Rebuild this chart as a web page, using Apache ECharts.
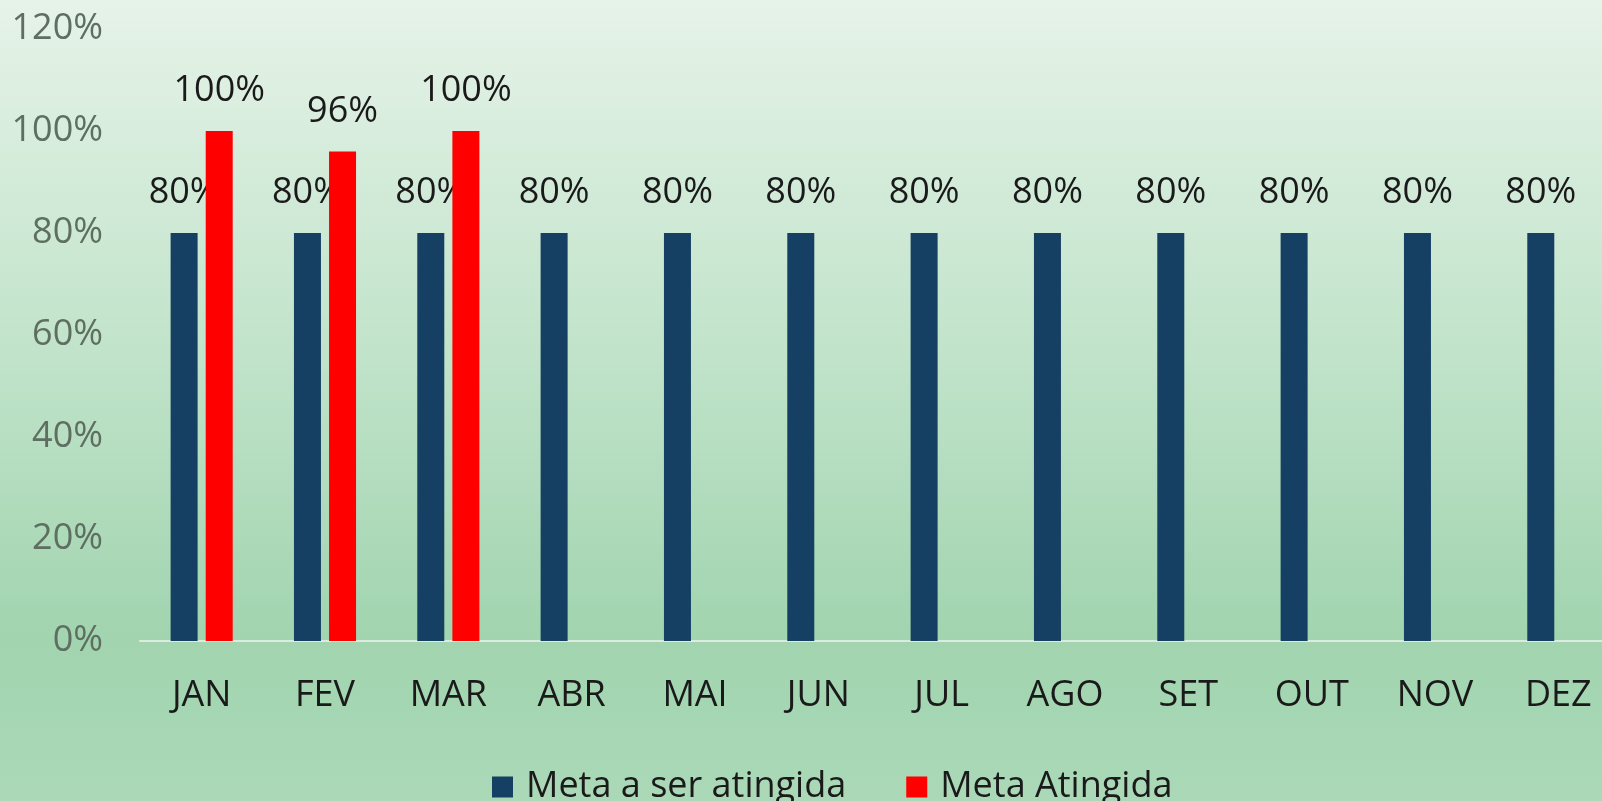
<!DOCTYPE html>
<html>
<head>
<meta charset="utf-8">
<script src="https://cdn.jsdelivr.net/npm/echarts@6/dist/echarts.min.js"></script>
<style>
  html, body { margin: 0; padding: 0; overflow: hidden; }
  /* the original chart is cut off on the right, so the canvas is a bit wider than the window */
  #chart { width: 1622px; height: 801px; }
</style>
</head>
<body>
<div id="chart"></div>
<script>
// Month categories
var months = ['JAN', 'FEV', 'MAR', 'ABR', 'MAI', 'JUN', 'JUL', 'AGO', 'SET', 'OUT', 'NOV', 'DEZ'];
// Target to be reached (%)
var metaASerAtingida = [80, 80, 80, 80, 80, 80, 80, 80, 80, 80, 80, 80];
// Target reached (%), only first quarter so far
var metaAtingida = [100, 96, 100, null, null, null, null, null, null, null, null, null];
var seriesNames = ['Meta a ser atingida', 'Meta Atingida'];

var fontFamily = '"Open Sans", "Noto Sans", sans-serif';

function initChart() {
  var el = document.getElementById('chart');
  var chart = echarts.init(el);

  var labelStyle = {
    show: true,
    position: 'top',
    distance: 22,
    fontFamily: fontFamily,
    fontSize: 36,
    color: '#1a1a1a',
    formatter: '{c}%'
  };

  chart.setOption({
    backgroundColor: new echarts.graphic.LinearGradient(0, 0, 0, 1, [
      {offset: 0, color: '#e6f3e9'},
      {offset: 0.45, color: '#c0e3c9'},
      {offset: 0.8, color: '#a1d4af'},
      {offset: 1, color: '#abd9b8'}
    ]),
    animation: false,
    legend: {
      data: seriesNames,
      left: 487,
      top: 764,
      itemWidth: 21,
      itemHeight: 21,
      itemGap: 60,
      icon: 'rect',
      textStyle: {
        fontFamily: fontFamily,
        fontSize: 36,
        color: '#1a1a1a',
        padding: [0, 0, 0, 8]
      }
    },
    grid: {
      left: 140,
      top: 29,
      right: 2,
      height: 612
    },
    xAxis: {
      type: 'category',
      data: months,
      axisTick: {show: false},
      axisLine: {lineStyle: {color: '#dcebdf', width: 2}},
      axisLabel: {
        margin: 37,
        fontFamily: fontFamily,
        fontSize: 36,
        color: '#1a1a1a'
      }
    },
    yAxis: {
      type: 'value',
      min: 0,
      max: 120,
      interval: 20,
      splitLine: {show: false},
      axisLine: {show: false},
      axisTick: {show: false},
      axisLabel: {
        margin: 37,
        formatter: '{value}%',
        fontFamily: fontFamily,
        fontSize: 36,
        color: '#5e6f62'
      }
    },
    series: [
      {
        name: seriesNames[0],
        type: 'bar',
        data: metaASerAtingida,
        barWidth: 27,
        barGap: '30%',
        itemStyle: {color: '#153f63'},
        label: labelStyle,
        z: 2
      },
      {
        name: seriesNames[1],
        type: 'bar',
        data: metaAtingida,
        barWidth: 27,
        itemStyle: {color: '#ff0000'},
        label: labelStyle,
        z: 3
      }
    ]
  });
}

initChart();
</script>
</body>
</html>
